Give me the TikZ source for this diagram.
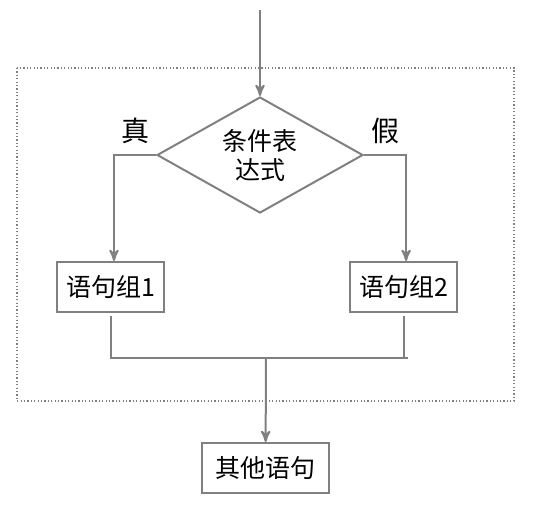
\documentclass[tikz,border=0pt]{standalone}
\usepackage{fontspec}
\setmainfont{Noto Sans CJK SC}
\usepackage{tikz}
\usetikzlibrary{arrows,shapes.geometric}
\definecolor{flowgray}{RGB}{128,128,128}

\begin{document}
\begin{tikzpicture}[x=0.5pt, y=-0.5pt, >=stealth', line width=1pt,
		box/.style={draw=flowgray, rectangle, minimum width=53.5pt, minimum height=25pt, inner sep=0pt, font=\fontsize{12.5}{14.5}\selectfont},
		cond/.style={draw=flowgray, diamond, aspect=1.78, minimum width=103pt, minimum height=58pt, inner sep=0pt, align=center, font=\fontsize{12.5}{14.5}\selectfont},
		lbl/.style={font=\fontsize{14}{15}\selectfont},
		flow/.style={draw=flowgray, ->}]
	  		\useasboundingbox (0,0) rectangle (545,505);
	  		\draw[flowgray, line width=0.6pt, dash pattern=on 0.6pt off 1.1pt] (17,68) rectangle (514,401);
	  		
	  		\node[cond]         (COND)	at (260,155)		{条件表\\达式};
	  		\node[box]          (G1)	at (110.8,287)		{语句组1};
	  		\node[box]          (G2)	at (403.7,287)		{语句组2};
	  		\node[box, minimum width=63.5pt] (NEXT)	at (265.5,468)	{其他语句};
	  		\node[lbl]          (TRUE)	at (135,131)		{真};
	  		\node[lbl]          (FALSE)	at (385,131)		{假};
	  		\coordinate         (IN)	at (260,10);
	  		\coordinate         (JOIN)	at (266,358);
	  		
	  		\path	(IN)		edge	[flow]		(COND)
	  				(JOIN)		edge	[flow]		(NEXT);
	  		\draw[flow]	(COND.west)	-|	([xshift=1.6pt]G1.north);
	  		\draw[flow]	(COND.east)	-|	([xshift=1.2pt]G2.north);
	  		\draw[flowgray]	([yshift=-1.6pt]G1.south)	--	(G1 |- JOIN)	--	([xshift=2.2pt]G2 |- JOIN);
	  		\draw[flowgray]	([yshift=-1.6pt]G2.south)	--	(G2 |- JOIN);
\end{tikzpicture}
\end{document}
